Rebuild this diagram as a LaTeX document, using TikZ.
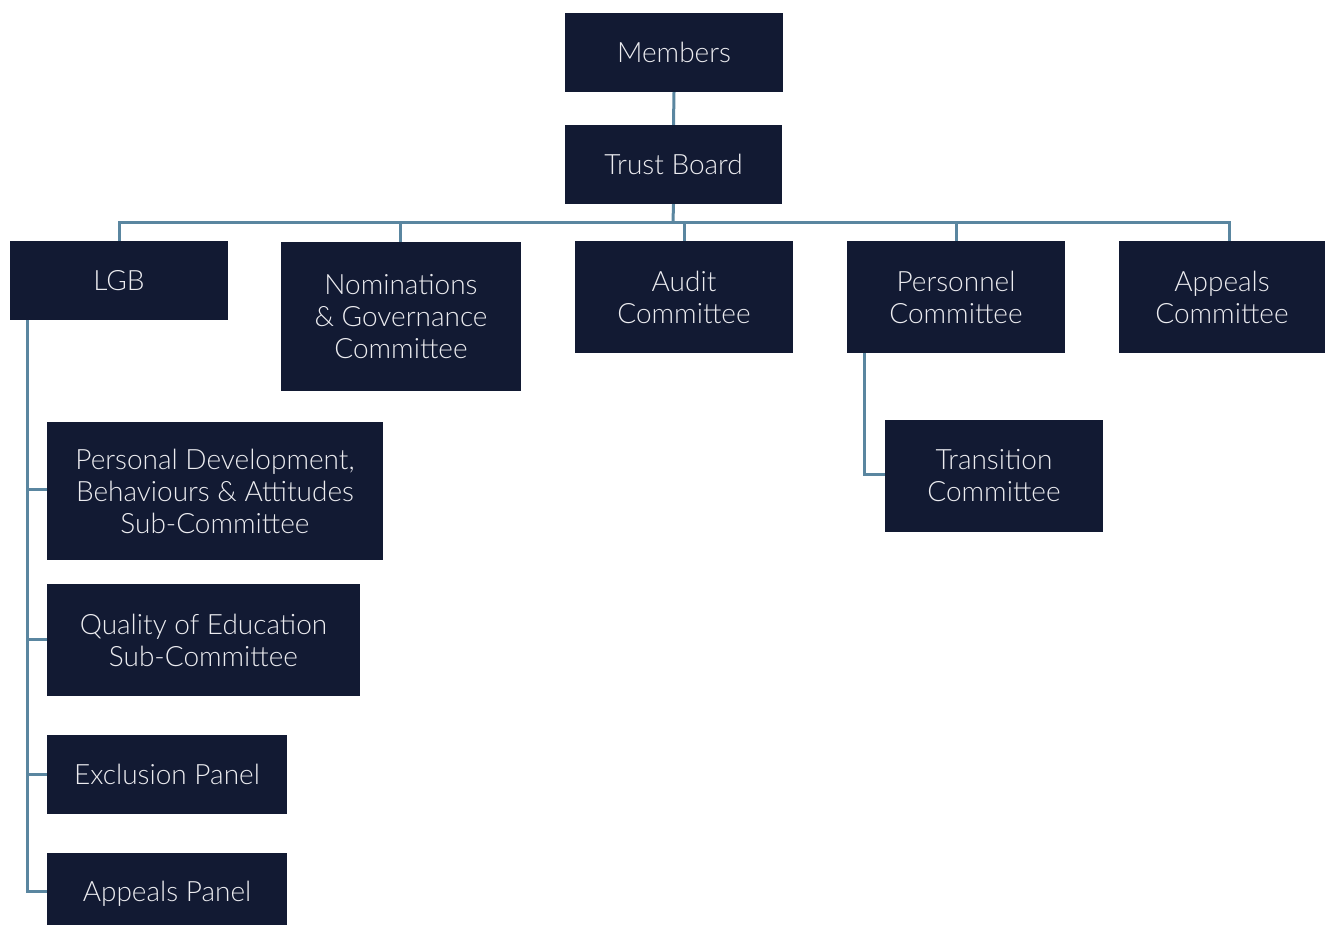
\documentclass[tikz,border=0pt]{standalone}
\usepackage{fontspec}
\setmainfont{Lato Light}
\definecolor{boxnavy}{HTML}{121A33}
\definecolor{linkblue}{HTML}{5A86A0}
\definecolor{boxtext}{HTML}{ECECF0}
\begin{document}
\begin{tikzpicture}[x=1pt,y=-1pt,
  orgbox/.style={fill=boxnavy, draw=none, text=boxtext, align=center,
    inner sep=0pt, font=\fontsize{28}{32}\selectfont},
  link/.style={draw=linkblue, line width=3pt}]
\useasboundingbox (0,0) rectangle (1326,926);

% top of the tree
\node[orgbox, minimum width=218, minimum height=79] (members) at (674,52.5) {Members};
\node[orgbox, minimum width=217, minimum height=79] (trust) at (673.5,164.5) {Trust Board};

% committees under the board
\node[orgbox, minimum width=218, minimum height=79] (lgb) at (119,280.5) {LGB};
\node[orgbox, minimum width=240, minimum height=149] (nom) at (401,316.5) {Nominations\\\& Governance\\Committee};
\node[orgbox, minimum width=218, minimum height=112] (audit) at (684,297) {Audit\\Committee};
\node[orgbox, minimum width=218, minimum height=112] (pers) at (956,297) {Personnel\\Committee};
\node[orgbox, minimum width=206, minimum height=112] (appc) at (1222,297) {Appeals\\Committee};
\node[orgbox, minimum width=218, minimum height=112] (trans) at (994,476) {Transition\\Committee};

% LGB sub-committees and panels
\node[orgbox, minimum width=336, minimum height=138] (pd) at (215,491) {Personal Development,\\Behaviours \& Attitudes\\Sub-Committee};
\node[orgbox, minimum width=313, minimum height=112] (qoe) at (203.5,640) {Quality of Education\\Sub-Committee};
\node[orgbox, minimum width=240, minimum height=79] (excl) at (167,774.5) {Exclusion Panel};
\node[orgbox, minimum width=240, minimum height=72] (appp) at (167,889) {\raisebox{-5pt}[\height][\depth]{Appeals Panel}};

% connectors
\coordinate (bus) at (673,222);
\draw[link] (members.south) -- (trust.north);
\draw[link] (trust.south) -- (bus);
\draw[link] (lgb.north) |- (bus);
\draw[link] ([xshift=-1]nom.north) |- (bus);
\draw[link] (audit.north) |- (bus);
\draw[link] (pers.north) |- (bus);
\draw[link] ([xshift=7]appc.north) |- (bus);

\coordinate (lgbleg) at ([xshift=18]lgb.south west);
\draw[link] (lgbleg) |- ([yshift=2]pd.west);
\draw[link] (lgbleg) |- ([yshift=1]qoe.west);
\draw[link] (lgbleg) |- (excl.west);
\draw[link] (lgbleg) |- ([yshift=-2]appp.west);

\coordinate (persleg) at ([xshift=18]pers.south west);
\draw[link] (persleg) |- ([yshift=2]trans.west);
\end{tikzpicture}
\end{document}
